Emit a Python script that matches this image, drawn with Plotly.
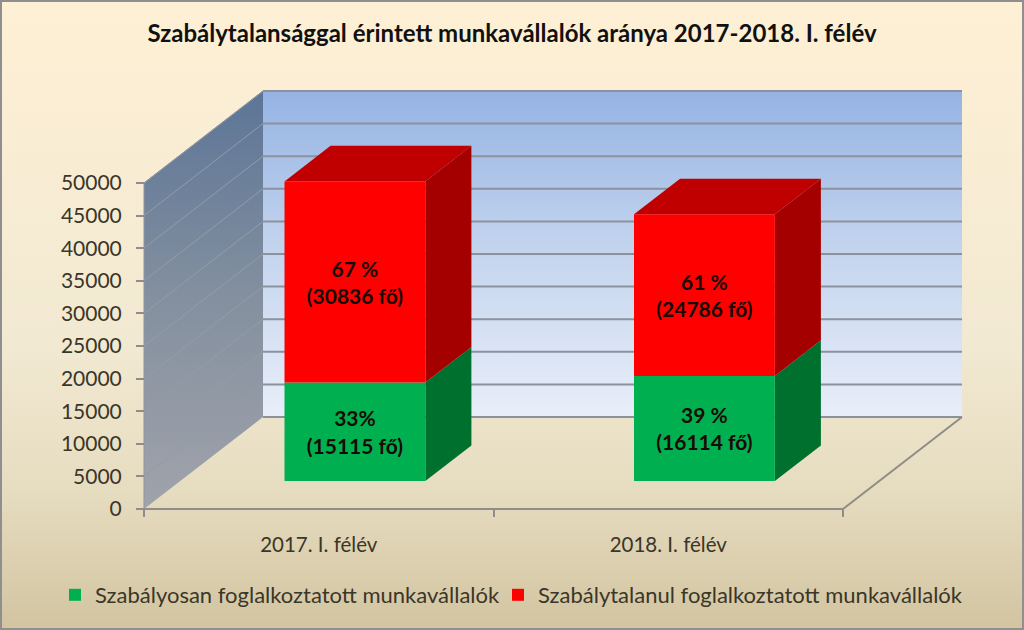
import plotly.graph_objects as go

# ---- data ----
title = "Szabálytalansággal érintett munkavállalók aránya 2017-2018. I. félév"
categories = ["2017. I. félév", "2018. I. félév"]
regular = [15115, 16114]
irregular = [30836, 24786]
regular_pct = ["33%", "39 %"]
irregular_pct = ["67 %", "61 %"]
regular_name = "Szabályosan foglalkoztatott munkavállalók"
irregular_name = "Szabálytalanul foglalkoztatott munkavállalók"
y_ticks = list(range(0, 50001, 5000))
text_font = "Lato"

# ---- oblique projection of the box chart onto the flat axes ----
W, H = 1024, 630
ORIGIN_X, ORIGIN_Y = 144, 509
PX_PER_CAT = 349.5
PX_PER_UNIT = 326 / 50000
DEPTH_X, DEPTH_Y = 119, 92
Z_FRONT, Z_BACK = 0.304, 0.691
BAR_HALF = 0.2015
LABEL_DROP_PX = 3


def px(x, y, z=0.0):
    return x + z * DEPTH_X / PX_PER_CAT, y + z * DEPTH_Y / PX_PER_UNIT


def poly(points, color=None, gradient=None):
    xs, ys = zip(*[px(*p) for p in points])
    kw = dict(fillgradient=gradient) if gradient else dict(fillcolor=color)
    return go.Scatter(x=list(xs) + [xs[0]], y=list(ys) + [ys[0]], mode="none", fill="toself",
                      showlegend=False, hoverinfo="skip", **kw)


def line(points, color, width):
    xs, ys = zip(*[px(*p) for p in points])
    return go.Scatter(x=list(xs), y=list(ys), mode="lines", line=dict(color=color, width=width),
                      showlegend=False, hoverinfo="skip")


def grad(bottom_to_top):
    return dict(type="vertical", colorscale=bottom_to_top)


x_min, x_max = -ORIGIN_X / PX_PER_CAT, (W - ORIGIN_X) / PX_PER_CAT
y_min, y_max = -(H - ORIGIN_Y) / PX_PER_UNIT, ORIGIN_Y / PX_PER_UNIT
top = y_ticks[-1]
n = len(categories)

fig = go.Figure()

# page background
fig.add_trace(go.Scatter(x=[x_min, x_max, x_max, x_min, x_min], y=[y_min, y_min, y_max, y_max, y_min],
                         mode="none", fill="toself", showlegend=False, hoverinfo="skip",
                         fillgradient=grad([[0, "#D2C4A0"], [0.22, "#E6DCC0"], [0.45, "#F2E9D2"], [1, "#FEF0D5"]])))

# walls
fig.add_trace(poly([(0, 0, 0), (0, 0, 1), (0, top, 1), (0, top, 0)],
                   gradient=grad([[0, "#A0A3AB"], [0.5, "#84909F"], [1, "#5C7597"]])))
fig.add_trace(poly([(0, 0, 1), (n, 0, 1), (n, top, 1), (0, top, 1)],
                   gradient=grad([[0, "#E8EEF9"], [0.5, "#C5D5EE"], [1, "#95B3E3"]])))

# gridlines
for t in y_ticks:
    if t:
        fig.add_trace(line([(0, t, 0), (0, t, 1)], "#939CAB", 1))
    fig.add_trace(line([(0, t, 1), (n, t, 1)], "#8B929E", 2))

# floor edges
fig.add_trace(line([(0, 0, 0), (n, 0, 0), (n, 0, 1)], "#8F8D85", 2))
fig.add_trace(line([(0, 0, 0), (0, top, 0), (0, top, 1)], "#8F959F", 1))

# boxes
for i in range(n):
    l, r = i + 0.5 - BAR_HALF, i + 0.5 + BAR_HALF
    a, b = regular[i], regular[i] + irregular[i]
    fig.add_trace(poly([(r, 0, Z_FRONT), (r, 0, Z_BACK), (r, a, Z_BACK), (r, a, Z_FRONT)], "#00702F"))
    fig.add_trace(poly([(r, a, Z_FRONT), (r, a, Z_BACK), (r, b, Z_BACK), (r, b, Z_FRONT)], "#A50000"))
    fig.add_trace(poly([(l, b, Z_FRONT), (r, b, Z_FRONT), (r, b, Z_BACK), (l, b, Z_BACK)], "#C00000"))
    fig.add_trace(poly([(l, 0, Z_FRONT), (r, 0, Z_FRONT), (r, a, Z_FRONT), (l, a, Z_FRONT)], "#00B050"))
    fig.add_trace(poly([(l, a, Z_FRONT), (r, a, Z_FRONT), (r, b, Z_FRONT), (l, b, Z_FRONT)], "#FF0000"))

# data labels
lx, ly, lt = [], [], []
for i in range(n):
    a, b = regular[i], regular[i] + irregular[i]
    for mid, txt in (((0 + a) / 2, f"{regular_pct[i]}<br>({regular[i]} fő)"),
                     ((a + b) / 2, f"{irregular_pct[i]}<br>({irregular[i]} fő)")):
        x_, y_ = px(i + 0.5, mid, Z_FRONT)
        lx.append(x_); ly.append(y_ - LABEL_DROP_PX / PX_PER_UNIT); lt.append(txt)
fig.add_trace(go.Scatter(x=lx, y=ly, text=lt, mode="text", showlegend=False, hoverinfo="skip",
                         textfont=dict(family=text_font, size=21, color="#1A0A05", weight="bold")))

# legend entries
for name, color, entry_w in ((regular_name, "#00B050", 398), (irregular_name, "#FF0000", 430)):
    fig.add_trace(go.Scatter(x=[None], y=[None], mode="markers", name=name, legendwidth=entry_w,
                             marker=dict(symbol="square", size=13, color=color)))

fig.update_layout(
    width=W, height=H, margin=dict(l=0, r=0, t=0, b=0), paper_bgcolor="#FEF0D5", plot_bgcolor="rgba(0,0,0,0)",
    font=dict(family=text_font, color="#3A3628", size=21),
    title=dict(text=title, x=0.5, xanchor="center", y=1 - 34 / H, yanchor="middle",
               font=dict(family=text_font, size=24, color="#111111", weight="bold")),
    xaxis=dict(range=[x_min, x_max], domain=[0, 1], anchor="free", position=(H - ORIGIN_Y) / H,
               tickmode="array", tickvals=[i + 0.5 for i in range(n)], ticktext=categories,
               tickfont=dict(size=20.5), ticks="", ticklabelstandoff=21, showgrid=False, zeroline=False,
               showline=False,
               minor=dict(tickmode="array", tickvals=list(range(n + 1)), ticks="outside", ticklen=7,
                          tickcolor="#8F8D85", tickwidth=2, showgrid=False)),
    yaxis=dict(range=[y_min, y_max], domain=[0, 1], anchor="free", position=ORIGIN_X / W,
               tickmode="array", tickvals=y_ticks, tickformat="d", ticks="outside", ticklen=8,
               tickcolor="#8F8D85", tickwidth=2, ticklabelstandoff=10, showgrid=False, zeroline=False,
               showline=False),
    legend=dict(orientation="h", x=55 / W, xanchor="left", y=1 - 595 / H, yanchor="middle",
                bgcolor="rgba(0,0,0,0)", itemsizing="constant", font=dict(size=22)),
    shapes=[dict(type="rect", xref="paper", yref="paper", x0=0, x1=1, y0=0, y1=1,
                 line=dict(color="#8F8F8F", width=4), fillcolor="rgba(0,0,0,0)")],
)

fig.write_html("out.html", config=dict(displayModeBar=False),
               post_script="document.documentElement.style.margin='0';document.body.style.margin='0';document.body.style.overflow='hidden';")
